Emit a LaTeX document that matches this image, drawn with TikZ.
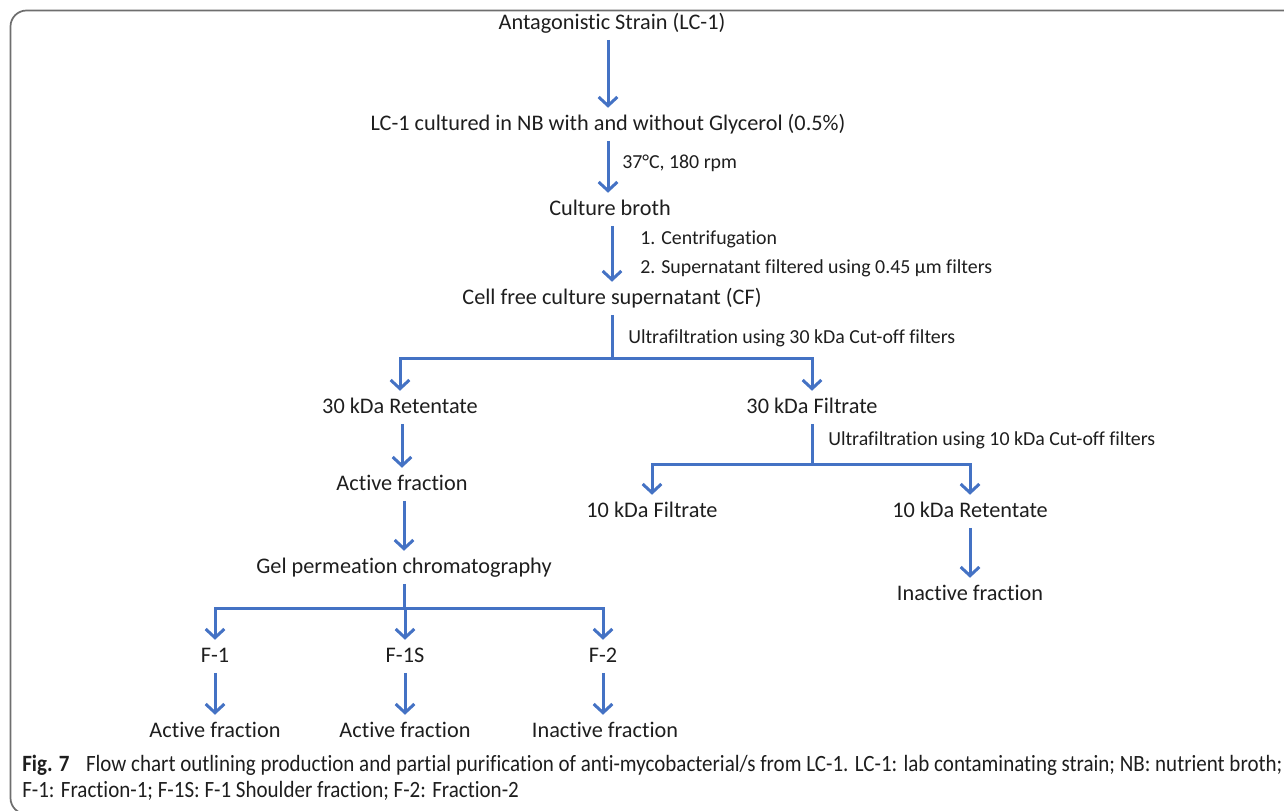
\documentclass[tikz,border=0pt]{standalone}
\usepackage{fontspec}
\setmainfont{Carlito}[Ligatures=NoCommon]
\newfontfamily\capfont[FakeStretch=0.9,Ligatures=NoCommon]{Carlito}
\usetikzlibrary{arrows.meta}
\definecolor{arrblue}{RGB}{68,114,196}
\definecolor{txt}{RGB}{30,30,30}
\definecolor{frame}{RGB}{110,110,110}
\begin{document}
\begin{tikzpicture}[x=0.75pt,y=-0.75pt,
  box/.style={anchor=base,inner xsep=2pt,inner ysep=4.5pt,text height=12pt,text depth=3.5pt,
    font=\fontsize{16.7}{20}\selectfont,text=txt},
  side/.style={anchor=base west,inner sep=0pt,font=\fontsize{14.9}{18}\selectfont,text=txt},
  captxt/.style={anchor=base west,inner sep=0pt,font=\capfont\fontsize{17.5}{20}\selectfont,text=txt},
  conn/.style={draw=arrblue,line width=2.25pt},
  arr/.style={conn,-{Straight Barb[length=6.5pt,width=14pt]}}]
\useasboundingbox (0,0) rectangle (1284,810);
\begin{scope}
\clip (0,0) rectangle (1284,810);
\draw[frame,line width=1.3pt,rounded corners=12pt] (1300,10.5) -- (10.5,10.5) -- (10.5,814) -- (1300,814);
\end{scope}
% main nodes
\node[box] (t1) at (612,29) {Antagonistic Strain (LC-1)};
\node[box] (t2) at (608,130) {LC-1 cultured in NB with and without Glycerol (0.5\%)};
\node[box] (t3) at (610,215) {Culture broth};
\node[box] (t4) at (612,304) {Cell free culture supernatant (CF)};
\node[box] (r30) at (400,413) {30 kDa Retentate};
\node[box] (f30) at (812,413) {30 kDa Filtrate};
\node[box] (act1) at (402,490) {Active fraction};
\node[box] (f10) at (652,517) {10 kDa Filtrate};
\node[box] (r10) at (970,517) {10 kDa Retentate};
\node[box] (inact1) at (970,600) {Inactive fraction};
\node[box] (gel) at (404,573) {Gel permeation chromatography};
\node[box] (fa) at (215,662) {F-1};
\node[box] (fb) at (405,662) {F-1S};
\node[box] (fc) at (603,662) {F-2};
\node[box] (aa) at (215,737) {Active fraction};
\node[box] (ab) at (405,737) {Active fraction};
\node[box] (ac) at (605,737) {Inactive fraction};
% side labels
\node[side] (l1) at (622,168) {37°C, 180 rpm};
\node[side] (l2) at (640,244) {1. Centrifugation};
\node[side] (l3) at (640,273) {2. Supernatant filtered using 0.45 μm filters};
\node[side] (l4) at (628,343) {Ultrafiltration using 30 kDa Cut-off filters};
\node[side] (l5) at (828,445) {Ultrafiltration using 10 kDa Cut-off filters};
% junctions
\coordinate (j1) at (612,358);
\coordinate (j2) at (812,464);
\coordinate (j3) at (404,608);
% connectors
\draw[arr] (t1.south -| t2) -- (t2.north);
\draw[arr] (t2.south) -- (t2.south |- t3.north);
\draw[arr] (t3.south -| t4) -- (t4.north);
\draw[conn] (t4.south) -- (j1);
\draw[arr] (j1) -| (r30.north);
\draw[arr] (j1) -| (f30.north);
\draw[arr] (r30.south -| act1) -- (act1.north);
\draw[conn] (f30.south) -- (j2);
\draw[arr] (j2) -| (f10.north);
\draw[arr] (j2) -| (r10.north);
\draw[arr] (r10.south) -- (inact1.north);
\draw[arr] (act1.south -| gel) -- (gel.north);
\draw[conn] (gel.south) -- (j3);
\draw[arr] (j3) -| (fa.north);
\draw[arr] (j3) -| (fb.north);
\draw[arr] (j3) -| (fc.north);
\draw[arr] (fa.south) -- (aa.north);
\draw[arr] (fb.south) -- (ab.north);
\draw[arr] (fc.south) -- (fc.south |- ac.north);
% caption
\node[captxt] (c1) at (22,771) {\textbf{Fig. 7}\hspace{0.5em} Flow chart outlining production and partial purification of anti-mycobacterial/s from LC-1. LC-1: lab contaminating strain; NB: nutrient broth;};
\node[captxt] (c2) at (22,797) {F-1: Fraction-1; F-1S: F-1 Shoulder fraction; F-2: Fraction-2};
\end{tikzpicture}
\end{document}
